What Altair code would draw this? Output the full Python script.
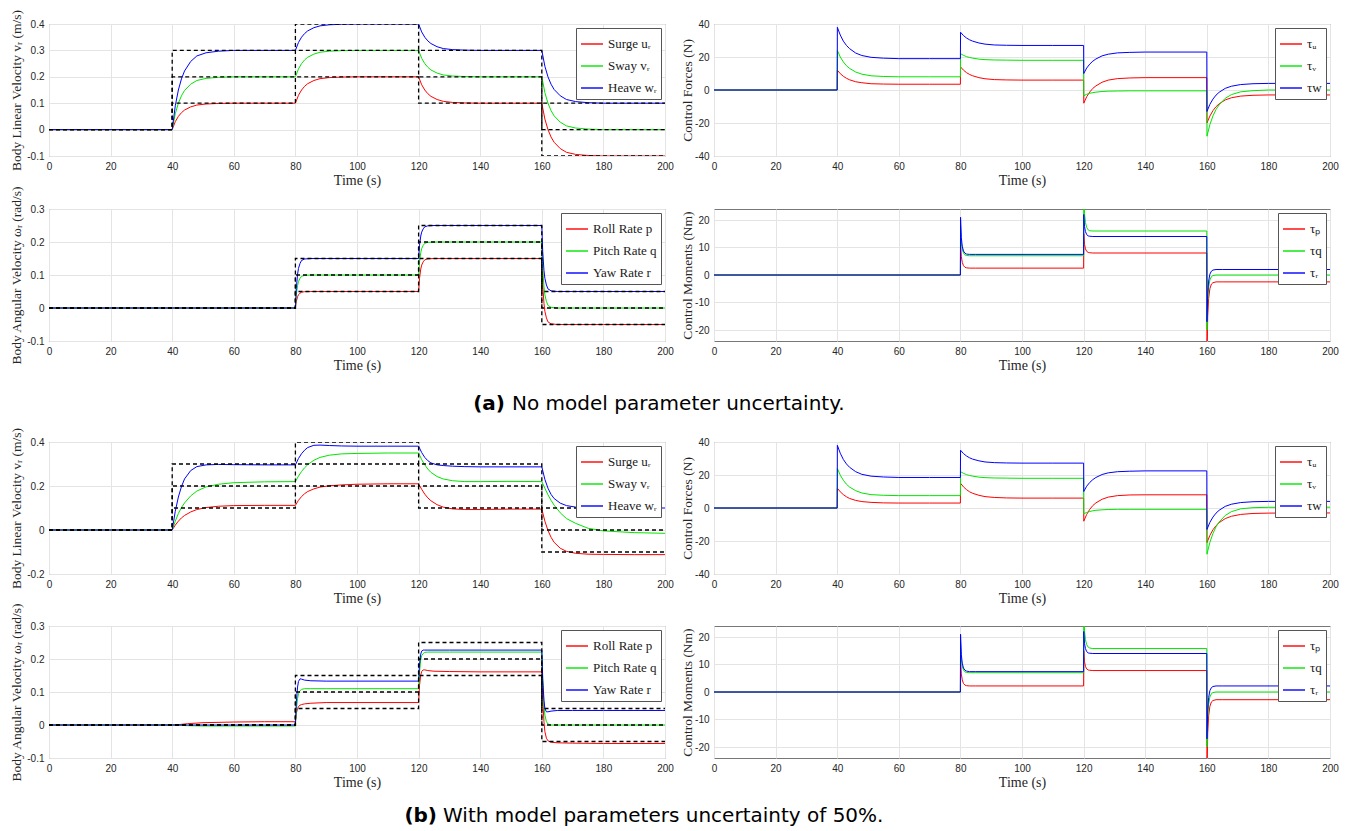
import altair as alt
import pandas as pd

# ---------------- time grids ----------------
T_LIN = [0,
         40, 41, 42, 43, 44, 46, 48, 51, 55, 60, 70,
         80, 81, 82, 83, 84, 86, 88, 91, 95, 100, 110,
         120, 121, 122, 123, 124, 126, 128, 131, 135, 140, 150,
         160, 161, 162, 163, 164, 166, 168, 171, 175, 180, 190,
         200]
T_FRC = [0,
         40, 40.05, 41, 42, 43, 44, 46, 48, 51, 55, 60, 70,
         80, 80.05, 81, 82, 83, 84, 86, 88, 91, 95, 100, 110,
         120, 120.05, 121, 122, 123, 124, 126, 128, 131, 135, 140, 150,
         160, 160.05, 161, 162, 163, 164, 166, 168, 171, 175, 180, 190,
         200]
T_ANG = [0, 40, 42, 45, 50, 60, 70,
         80, 80.3, 80.7, 81, 81.5, 82, 83, 85, 90, 100,
         120, 120.3, 120.7, 121, 121.5, 122, 123, 125, 130, 140,
         160, 160.3, 160.7, 161, 161.5, 162, 163, 165, 170, 180,
         200]
T_MOM = [0,
         80, 80.05, 80.3, 80.6, 81, 81.5, 82, 83, 85,
         120, 120.05, 120.3, 120.6, 121, 121.5, 122, 123, 125,
         160, 160.05, 160.3, 160.6, 161, 161.5, 162, 163, 165,
         200]

# ---------------- references ----------------
T_REF = [0, 40, 80, 120, 160, 200]
REF_U = [0, 0.1, 0.2, 0.1, -0.1, -0.1]
REF_V = [0, 0.2, 0.3, 0.2, 0.0, 0.0]
REF_W = [0, 0.3, 0.4, 0.3, 0.1, 0.1]
REF_P = [0, 0, 0.05, 0.15, -0.05, -0.05]
REF_Q = [0, 0, 0.10, 0.20, 0.0, 0.0]
REF_R = [0, 0, 0.15, 0.25, 0.05, 0.05]

# ---------------- (a) no uncertainty ----------------
A_U = [0,
       0, .030, .050, .064, .074, .086, .093, .097, .099, .100, .100,
       .100, .130, .150, .164, .174, .186, .193, .197, .199, .200, .200,
       .200, .170, .150, .136, .126, .114, .107, .103, .101, .100, .100,
       .100, .040, .000, -.028, -.048, -.072, -.086, -.094, -.098, -.100, -.100,
       -.100]
A_V = [0,
       0, .060, .100, .128, .148, .172, .186, .194, .198, .200, .200,
       .200, .230, .250, .264, .274, .286, .293, .297, .299, .300, .300,
       .300, .270, .250, .236, .226, .214, .207, .203, .201, .200, .200,
       .200, .140, .100, .072, .052, .028, .014, .006, .002, .000, .000,
       .000]
A_W = [0,
       0, .090, .150, .192, .222, .258, .279, .291, .297, .300, .300,
       .300, .330, .350, .364, .374, .386, .393, .397, .399, .400, .400,
       .400, .370, .350, .336, .326, .314, .307, .303, .301, .300, .300,
       .300, .240, .200, .172, .152, .128, .114, .106, .102, .100, .100,
       .100]

A_TAU_U = [0,
           0, 12, 9.9, 8.3, 7.1, 6.2, 5.0, 4.4, 3.8, 3.6, 3.5, 3.5,
           3.5, 14, 12.0, 10.5, 9.4, 8.6, 7.5, 6.8, 6.3, 6.1, 6.0, 6.0,
           6.0, -8, -4.1, -1.2, 1.0, 2.5, 4.7, 6.0, 6.9, 7.3, 7.5, 7.5,
           7.5, -20, -15.8, -12.5, -10.1, -8.4, -6.0, -4.7, -3.7, -3.2, -3.0, -3.0,
           -3.0]
A_TAU_V = [0,
           0, 24, 20.0, 17.0, 14.7, 13.1, 10.9, 9.6, 8.6, 8.2, 8.0, 8.0,
           8.0, 22, 21.0, 20.2, 19.7, 19.3, 18.7, 18.4, 18.2, 18.1, 18.0, 18.0,
           18.0, -3.5, -2.6, -2.0, -1.6, -1.3, -0.9, -0.7, -0.6, -0.5, -0.5, -0.5,
           -0.5, -28, -21.0, -15.7, -11.8, -9.0, -5.0, -2.8, -1.1, -0.4, 0.0, 0.0,
           0.0]
A_TAU_W = [0,
           0, 38, 33.3, 29.6, 27.0, 25.1, 22.4, 20.9, 19.8, 19.3, 19.0, 19.0,
           19.0, 35, 33.0, 31.5, 30.4, 29.6, 28.5, 27.8, 27.3, 27.1, 27.0, 27.0,
           27.0, 10, 13.3, 15.7, 17.5, 18.8, 20.7, 21.7, 22.5, 22.8, 23.0, 23.0,
           23.0, -13, -8.7, -5.5, -3.1, -1.4, 1.0, 2.3, 3.3, 3.8, 4.0, 4.0,
           4.0]

A_P = [0, 0, 0, 0, 0, 0, 0,
       0, .020, .034, .040, .045, .048, .0495, .050, .050, .050,
       .050, .090, .118, .130, .140, .146, .149, .150, .150, .150,
       .150, .070, .014, -.010, -.030, -.042, -.048, -.050, -.050, -.050,
       -.050]
A_Q = [0, 0, 0, 0, 0, 0, 0,
       0, .040, .068, .080, .090, .096, .099, .100, .100, .100,
       .100, .140, .168, .180, .190, .196, .199, .200, .200, .200,
       .200, .120, .064, .040, .020, .008, .002, .000, .000, .000,
       .000]
A_R = [0, 0, 0, 0, 0, 0, 0,
       0, .060, .102, .120, .135, .144, .1485, .150, .150, .150,
       .150, .190, .218, .230, .240, .246, .249, .250, .250, .250,
       .250, .170, .114, .090, .070, .058, .052, .050, .050, .050,
       .050]

A_TAU_P = [0,
           0, 12, 6.8, 4.6, 3.4, 2.8, 2.6, 2.5, 2.5,
           2.5, 15, 11.2, 9.5, 8.6, 8.2, 8.1, 8.0, 8.0,
           8.0, -30, -15, -8.5, -5.0, -3.3, -2.8, -2.5, -2.5,
           -2.5]
A_TAU_Q = [0,
           0, 18, 12.0, 9.4, 8.0, 7.3, 7.1, 7.0, 7.0,
           7.0, 30, 22.3, 19.1, 17.3, 16.4, 16.1, 16.0, 16.0,
           16.0, -20, -9.0, -4.4, -1.8, -0.6, -0.2, 0.0, 0.0,
           0.0]
A_TAU_R = [0,
           0, 21, 13.6, 10.5, 8.7, 7.9, 7.6, 7.5, 7.5,
           7.5, 22, 17.6, 15.8, 14.7, 14.2, 14.1, 14.0, 14.0,
           14.0, -17, -6.6, -2.2, 0.3, 1.4, 1.8, 2.0, 2.0,
           2.0]

# ---------------- (b) 50% uncertainty ----------------
B_U = [0,
       0, .022, .040, .055, .066, .082, .093, .102, .108, .111, .112,
       .112, .135, .152, .165, .175, .187, .195, .201, .205, .208, .210,
       .210, .185, .163, .146, .133, .115, .104, .096, .093, .093, .095,
       .095, .040, -.002, -.033, -.056, -.083, -.097, -.106, -.110, -.111, -.112,
       -.112]
B_V = [0,
       0, .040, .075, .102, .123, .155, .177, .196, .208, .215, .219,
       .220, .245, .266, .283, .297, .317, .330, .340, .346, .348, .350,
       .350, .320, .296, .277, .262, .243, .232, .224, .220, .220, .221,
       .220, .190, .160, .135, .113, .078, .052, .030, .008, -.004, -.012,
       -.015]
B_W = [0,
       0, .085, .150, .197, .232, .270, .288, .296, .298, .297, .296,
       .296, .325, .347, .363, .375, .385, .386, .384, .382, .381, .381,
       .381, .352, .330, .315, .305, .296, .293, .290, .288, .287, .287,
       .287, .230, .190, .162, .143, .122, .111, .104, .101, .100, .100,
       .100]

B_TAU_U = [0,
           0, 12, 9.8, 8.1, 6.8, 5.8, 4.6, 3.9, 3.4, 3.1, 3.0, 3.0,
           3.0, 15, 12.8, 11.1, 9.8, 8.9, 7.7, 6.9, 6.4, 6.1, 6.0, 6.0,
           6.0, -8, -3.9, -0.8, 1.5, 3.1, 5.3, 6.6, 7.5, 7.9, 8.0, 8.0,
           8.0, -21, -16.6, -13.2, -10.7, -8.9, -6.4, -5.0, -3.9, -3.3, -3.1, -3.0,
           -3.0]
B_TAU_V = [0,
           0, 24, 19.9, 16.8, 14.4, 12.7, 10.5, 9.1, 8.1, 7.7, 7.5, 7.5,
           7.5, 22, 21.0, 20.2, 19.7, 19.3, 18.7, 18.4, 18.2, 18.1, 18.0, 18.0,
           18.0, -3.5, -2.7, -2.1, -1.7, -1.4, -1.1, -0.9, -0.8, -0.8, -0.8, -0.8,
           -0.8, -28, -20.8, -15.4, -11.4, -8.5, -4.5, -2.2, -0.5, 0.2, 0.4, 0.5,
           0.5]
B_TAU_W = [0,
           0, 38, 33.2, 29.4, 26.7, 24.7, 22.0, 20.4, 19.3, 18.8, 18.5, 18.5,
           18.5, 35, 33.0, 31.5, 30.4, 29.6, 28.6, 27.9, 27.5, 27.3, 27.2, 27.2,
           27.2, 10, 13.2, 15.5, 17.2, 18.5, 20.3, 21.3, 22.0, 22.3, 22.5, 22.5,
           22.5, -13, -8.7, -5.5, -3.1, -1.4, 1.0, 2.3, 3.3, 3.8, 4.0, 4.0,
           4.0]

B_P = [0, 0, .001, .004, .007, .009, .010,
       .010, .035, .050, .056, .060, .062, .064, .066, .068, .068,
       .068, .120, .152, .162, .167, .167, .165, .163, .162, .161,
       .161, .080, .010, -.020, -.040, -.048, -.052, -.054, -.055, -.056,
       -.056]
B_Q = [0, 0, -.001, -.002, -.003, -.003, -.003,
       -.003, .045, .080, .095, .104, .108, .110, .110, .110, .110,
       .110, .160, .198, .210, .217, .220, .221, .221, .221, .221,
       .221, .130, .060, .030, .010, .003, .000, .000, .000, .000,
       .000]
B_R = [0, 0, 0, 0, 0, 0, 0,
       0, .070, .115, .132, .140, .139, .136, .134, .133, .133,
       .133, .185, .215, .224, .227, .227, .227, .227, .227, .227,
       .227, .140, .075, .050, .040, .040, .042, .044, .044, .044,
       .044]

B_TAU_P = [0,
           0, 12, 6.6, 4.4, 3.1, 2.5, 2.3, 2.2, 2.2,
           2.2, 15, 11.0, 9.3, 8.4, 8.0, 7.9, 7.8, 7.8,
           7.8, -30, -15, -8.7, -5.2, -3.6, -3.1, -2.8, -2.8,
           -2.8]
B_TAU_Q = [0,
           0, 18, 12.0, 9.4, 8.0, 7.3, 7.1, 7.0, 7.0,
           7.0, 30, 22.2, 19.0, 17.2, 16.3, 16.0, 15.8, 15.8,
           15.8, -20, -9.0, -4.4, -1.8, -0.6, -0.2, 0.0, 0.0,
           0.0]
B_TAU_R = [0,
           0, 21, 13.6, 10.5, 8.7, 7.9, 7.6, 7.4, 7.4,
           7.4, 22, 17.6, 15.8, 14.7, 14.2, 14.1, 14.0, 14.0,
           14.0, -17, -6.4, -2.0, 0.5, 1.6, 2.0, 2.2, 2.2,
           2.2]

# ---------------- labels ----------------
LIN_NAMES = ["Surge uᵣ", "Sway vᵣ", "Heave wᵣ"]
ANG_NAMES = ["Roll Rate p", "Pitch Rate q", "Yaw Rate r"]
FRC_NAMES = ["τᵤ", "τᵥ", "τw"]
MOM_NAMES = ["τₚ", "τq", "τᵣ"]
COLORS = ["#ff0000", "#00e600", "#0000ff"]
X_TICKS = [0, 20, 40, 60, 80, 100, 120, 140, 160, 180, 200]
CAP_A = ["(a)", "No model parameter uncertainty."]
CAP_B = ["(b)", "With model parameters uncertainty of 50%."]

LEXPR = "replace(format(datum.value, '~g'), '\u2212', '-')"
W, H = 616, 132


def panel(t, names, series, t_ref, refs, ydom, yticks, ytitle, left, caption=None):
    for s in series:
        assert len(s) == len(t), (ytitle, len(s), len(t))
    rows = []
    for name, vals in zip(names, series):
        for ti, v in zip(t, vals):
            rows.append({"t": ti, "v": v, "s": name})
    df = pd.DataFrame(rows)
    ext = 24 if left else 20
    tpad = 2 if left else 0
    xax = alt.Axis(values=X_TICKS, title="Time (s)", labelPadding=5, titlePadding=2,
                   labelFlush=False, labelOverlap=False)
    yax = alt.Axis(values=yticks, title=ytitle, labelPadding=5, minExtent=ext,
                   maxExtent=ext, titlePadding=tpad, labelExpr=LEXPR,
                   labelOverlap=False, labelSeparation=0, titleFontSize=13.5)
    x = alt.X("t:Q", scale=alt.Scale(domain=[0, 200], nice=False, zero=False), axis=xax)
    y = alt.Y("v:Q", scale=alt.Scale(domain=ydom, nice=False, zero=False), axis=yax)
    lines = alt.Chart(df).mark_line(strokeWidth=1, clip=True).encode(
        x=x, y=y,
        color=alt.Color("s:N", scale=alt.Scale(domain=names, range=COLORS),
                        sort=names,
                        legend=alt.Legend(title=None, orient="top-right", offset=4)),
    )
    layers = [lines]
    if refs is not None:
        rrows = []
        for i, vals in enumerate(refs):
            for ti, v in zip(t_ref, vals):
                rrows.append({"t": ti, "v": v, "s": f"ref{i}"})
        rdf = pd.DataFrame(rrows)
        layers.append(
            alt.Chart(rdf).mark_line(color="black", strokeDash=[4, 3], strokeWidth=1.3,
                                     interpolate="step-after", clip=True).encode(
                x=x, y=y, detail="s:N")
        )
    if caption is not None:
        (lab, rest), (xr, xl, yc) = caption
        layers.append(
            alt.Chart(pd.DataFrame({"c": [lab]})).mark_text(
                align="right", baseline="middle", font="DejaVu Sans", fontSize=20,
                fontWeight="bold", color="black").encode(
                x=alt.value(xr), y=alt.value(yc), text="c:N")
        )
        layers.append(
            alt.Chart(pd.DataFrame({"c": [rest]})).mark_text(
                align="left", baseline="middle", font="DejaVu Sans", fontSize=20,
                color="black").encode(
                x=alt.value(xl), y=alt.value(yc), text="c:N")
        )
    return alt.layer(*layers).properties(width=W, height=H)


LIN_TITLE = "Body Linear Velocity vᵣ (m/s)"
ANG_TITLE = "Body Angular Velocity ωᵣ (rad/s)"
FRC_TITLE = "Control Forces (N)"
MOM_TITLE = "Control Moments (Nm)"

a1 = panel(T_LIN, LIN_NAMES, [A_U, A_V, A_W], T_REF, [REF_U, REF_V, REF_W],
           [-0.1, 0.4], [-0.1, 0, 0.1, 0.2, 0.3, 0.4], LIN_TITLE, True)
a2 = panel(T_FRC, FRC_NAMES, [A_TAU_U, A_TAU_V, A_TAU_W], None, None,
           [-40, 40], [-40, -20, 0, 20, 40], FRC_TITLE, False)
a3 = panel(T_ANG, ANG_NAMES, [A_P, A_Q, A_R], T_REF, [REF_P, REF_Q, REF_R],
           [-0.1, 0.3], [-0.1, 0, 0.1, 0.2, 0.3], ANG_TITLE, True,
           caption=(CAP_A, (456, 463, 195)))
a4 = panel(T_MOM, MOM_NAMES, [A_TAU_P, A_TAU_Q, A_TAU_R], None, None,
           [-24, 24], [-20, -10, 0, 10, 20], MOM_TITLE, False)

b1 = panel(T_LIN, LIN_NAMES, [B_U, B_V, B_W], T_REF, [REF_U, REF_V, REF_W],
           [-0.2, 0.4], [-0.2, 0, 0.2, 0.4], LIN_TITLE, True)
b2 = panel(T_FRC, FRC_NAMES, [B_TAU_U, B_TAU_V, B_TAU_W], None, None,
           [-40, 40], [-40, -20, 0, 20, 40], FRC_TITLE, False)
b3 = panel(T_ANG, ANG_NAMES, [B_P, B_Q, B_R], T_REF, [REF_P, REF_Q, REF_R],
           [-0.1, 0.3], [-0.1, 0, 0.1, 0.2, 0.3], ANG_TITLE, True,
           caption=(CAP_B, (388, 394, 190)))
b4 = panel(T_MOM, MOM_NAMES, [B_TAU_P, B_TAU_Q, B_TAU_R], None, None,
           [-24, 24], [-20, -10, 0, 10, 20], MOM_TITLE, False)

groupA = alt.concat(a1, a2, a3, a4, columns=2, spacing={"row": 53, "column": 49},
                    bounds="flush").resolve_scale(x="independent", y="independent",
                                                  color="independent")
groupB = alt.concat(b1, b2, b3, b4, columns=2, spacing={"row": 52, "column": 49},
                    bounds="flush").resolve_scale(x="independent", y="independent",
                                                  color="independent")

chart = alt.vconcat(groupA, groupB, spacing=11).resolve_scale(
    x="independent", y="independent", color="independent"
).properties(
    padding={"left": 0, "top": 0, "right": 0, "bottom": 0}
).configure_view(
    stroke="#777777", strokeWidth=1
).configure_axis(
    grid=True, gridColor="#e4e4e4", gridWidth=1, domain=False, ticks=False,
    labelFont="Liberation Sans", labelFontSize=10, labelColor="#262626",
    titleFont="Liberation Serif", titleFontSize=14, titleFontWeight="normal",
    titleColor="#262626", labelOverlap=False
).configure_legend(
    strokeColor="#555555", fillColor="white", padding=4, rowPadding=3,
    labelFont="Liberation Serif", labelFontSize=13, labelColor="#1a1a1a",
    symbolType="stroke", symbolSize=484, symbolStrokeWidth=1.4, labelOffset=4,
    cornerRadius=0
)

chart.save("out.html", embed_options={"renderer": "svg", "actions": False})
